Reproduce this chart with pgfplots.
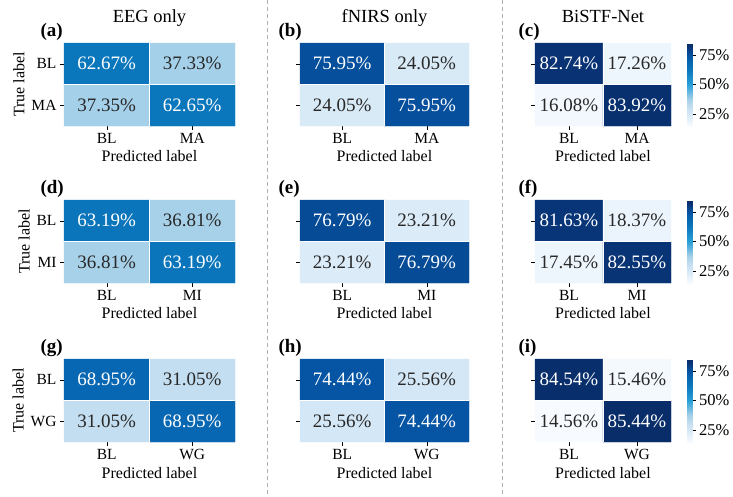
\documentclass[border=0pt]{standalone}
\usepackage{fontspec}
\setmainfont{Liberation Serif}
\usepackage{pgfplots}
\pgfplotsset{compat=1.18}
\newcommand\fs[1]{\fontsize{#1pt}{#1pt}\selectfont}
\definecolor{txtD}{RGB}{40,40,40}
\definecolor{dashc}{RGB}{175,175,175}
\pgfplotsset{
 colormap={cmB}{rgb255(0cm)=(247,251,255) rgb255(0.155cm)=(212,231,246) rgb255(0.233cm)=(195,222,240) rgb255(0.32cm)=(165,208,233) rgb255(0.5cm)=(40,160,215) rgb255(0.68cm)=(10,118,188) rgb255(0.77cm)=(8,103,178) rgb255(0.85cm)=(5,84,163) rgb255(0.95cm)=(8,52,118) rgb255(1cm)=(8,45,105)},
 /pgf/number format/assume math mode=true,
 cm/.style={
  scale only axis, height=83pt, anchor=north west,
  xmin=-0.5, xmax=1.5, ymin=-0.5, ymax=1.5, y dir=reverse,
  enlargelimits=false,
  xtick={0,1}, ytick={0,1},
  tick pos=left, tick align=outside, major tick length=4pt,
  tick style={black, line width=0.5pt},
  axis line style={draw=none},
  colormap name=cmB, point meta min=14.56, point meta max=85.44,
  xlabel={Predicted label},
  ticklabel style={font=\fs{15.5}},
  label style={font=\fs{16}},
  every axis title/.style={at={(0.5,1)}, anchor=base, yshift=21pt, font=\fs{18.5}},
  clip=false,
 },
 cb/.style={colorbar, colorbar style={
  at={(parent axis.north east)}, anchor=north west, xshift=8pt,
  scale only axis, width=5pt, height=83pt,
  ytick={25,50,75}, yticklabel={\pgfmathprintnumber{\tick}\%},
  yticklabel style={font=\fs{16.5}},
  axis line style={draw=none},
  tick align=outside, ytick pos=right, major tick length=3pt,
  tick style={black, line width=0.5pt},
 }},
 txt/.style={only marks, mark=none, point meta=explicit,
  nodes near coords={\pgfmathprintnumber[fixed,fixed zerofill,precision=2]{\pgfplotspointmeta}\%},
  nodes near coords align=center,
  every node near coord/.append style={font=\fs{19}, text=#1, inner sep=0pt, anchor=center}},
 mat/.style={matrix plot*, mesh/cols=2, point meta=explicit},
}
\newcommand\sep{\draw[white, line width=1pt] (axis cs:0.5,-0.5) -- (axis cs:0.5,1.5);
 \draw[white, line width=1pt] (axis cs:-0.5,0.5) -- (axis cs:1.5,0.5);}
\newcommand\plab[2]{\node[anchor=base west, font=\fs{19}\bfseries, xshift=-#2pt, yshift=7pt] at (axis description cs:0,1) {#1};}
\begin{document}
\begin{tikzpicture}
\path[use as bounding box] (0,0) rectangle (733pt,-496pt);
\draw[dashc, line width=0.6pt, dash pattern=on 4pt off 3pt] (267pt,0) -- (267pt,-496pt);
\draw[dashc, line width=0.6pt, dash pattern=on 4pt off 3pt] (502pt,0) -- (502pt,-496pt);

% ---------- Row 1 ----------
\begin{axis}[cm, at={(64pt,-43pt)}, width=171pt, xticklabels={BL,MA}, yticklabels={BL,MA}, ylabel={True label}, title={EEG only}]
\addplot[mat] table[meta=c]{
x y c
0 0 62.67
1 0 37.33
0 1 37.35
1 1 62.65
};
\addplot[txt=white] table[meta=c]{
x y c
0 0 62.67
1 1 62.65
};
\addplot[txt=txtD] table[meta=c]{
x y c
1 0 37.33
0 1 37.35
};
\sep \plab{(a)}{27}
\end{axis}

\begin{axis}[cm, at={(300pt,-43pt)}, width=169pt, xticklabels={BL,MA}, yticklabels={,}, title={fNIRS only}]
\addplot[mat] table[meta=c]{
x y c
0 0 75.95
1 0 24.05
0 1 24.05
1 1 75.95
};
\addplot[txt=white] table[meta=c]{
x y c
0 0 75.95
1 1 75.95
};
\addplot[txt=txtD] table[meta=c]{
x y c
1 0 24.05
0 1 24.05
};
\sep \plab{(b)}{25}
\end{axis}

\begin{axis}[cm, cb, at={(535pt,-43pt)}, width=136pt, xticklabels={BL,MA}, yticklabels={,}, title={BiSTF-Net}]
\addplot[mat] table[meta=c]{
x y c
0 0 82.74
1 0 17.26
0 1 16.08
1 1 83.92
};
\addplot[txt=white] table[meta=c]{
x y c
0 0 82.74
1 1 83.92
};
\addplot[txt=txtD] table[meta=c]{
x y c
1 0 17.26
0 1 16.08
};
\sep \plab{(c)}{20}
\end{axis}

% ---------- Row 2 ----------
\begin{axis}[cm, at={(64pt,-200pt)}, width=171pt, xticklabels={BL,MI}, yticklabels={BL,MI}, ylabel={True label}]
\addplot[mat] table[meta=c]{
x y c
0 0 63.19
1 0 36.81
0 1 36.81
1 1 63.19
};
\addplot[txt=white] table[meta=c]{
x y c
0 0 63.19
1 1 63.19
};
\addplot[txt=txtD] table[meta=c]{
x y c
1 0 36.81
0 1 36.81
};
\sep \plab{(d)}{27}
\end{axis}

\begin{axis}[cm, at={(300pt,-200pt)}, width=169pt, xticklabels={BL,MI}, yticklabels={,}]
\addplot[mat] table[meta=c]{
x y c
0 0 76.79
1 0 23.21
0 1 23.21
1 1 76.79
};
\addplot[txt=white] table[meta=c]{
x y c
0 0 76.79
1 1 76.79
};
\addplot[txt=txtD] table[meta=c]{
x y c
1 0 23.21
0 1 23.21
};
\sep \plab{(e)}{25}
\end{axis}

\begin{axis}[cm, cb, at={(535pt,-200pt)}, width=136pt, xticklabels={BL,MI}, yticklabels={,}]
\addplot[mat] table[meta=c]{
x y c
0 0 81.63
1 0 18.37
0 1 17.45
1 1 82.55
};
\addplot[txt=white] table[meta=c]{
x y c
0 0 81.63
1 1 82.55
};
\addplot[txt=txtD] table[meta=c]{
x y c
1 0 18.37
0 1 17.45
};
\sep \plab{(f)}{20}
\end{axis}

% ---------- Row 3 ----------
\begin{axis}[cm, at={(64pt,-359pt)}, width=171pt, xticklabels={BL,WG}, yticklabels={BL,WG}, ylabel={True label}]
\addplot[mat] table[meta=c]{
x y c
0 0 68.95
1 0 31.05
0 1 31.05
1 1 68.95
};
\addplot[txt=white] table[meta=c]{
x y c
0 0 68.95
1 1 68.95
};
\addplot[txt=txtD] table[meta=c]{
x y c
1 0 31.05
0 1 31.05
};
\sep \plab{(g)}{27}
\end{axis}

\begin{axis}[cm, at={(300pt,-359pt)}, width=169pt, xticklabels={BL,WG}, yticklabels={,}]
\addplot[mat] table[meta=c]{
x y c
0 0 74.44
1 0 25.56
0 1 25.56
1 1 74.44
};
\addplot[txt=white] table[meta=c]{
x y c
0 0 74.44
1 1 74.44
};
\addplot[txt=txtD] table[meta=c]{
x y c
1 0 25.56
0 1 25.56
};
\sep \plab{(h)}{25}
\end{axis}

\begin{axis}[cm, cb, at={(535pt,-359pt)}, width=136pt, xticklabels={BL,WG}, yticklabels={,}]
\addplot[mat] table[meta=c]{
x y c
0 0 84.54
1 0 15.46
0 1 14.56
1 1 85.44
};
\addplot[txt=white] table[meta=c]{
x y c
0 0 84.54
1 1 85.44
};
\addplot[txt=txtD] table[meta=c]{
x y c
1 0 15.46
0 1 14.56
};
\sep \plab{(i)}{20}
\end{axis}
\end{tikzpicture}
\end{document}
